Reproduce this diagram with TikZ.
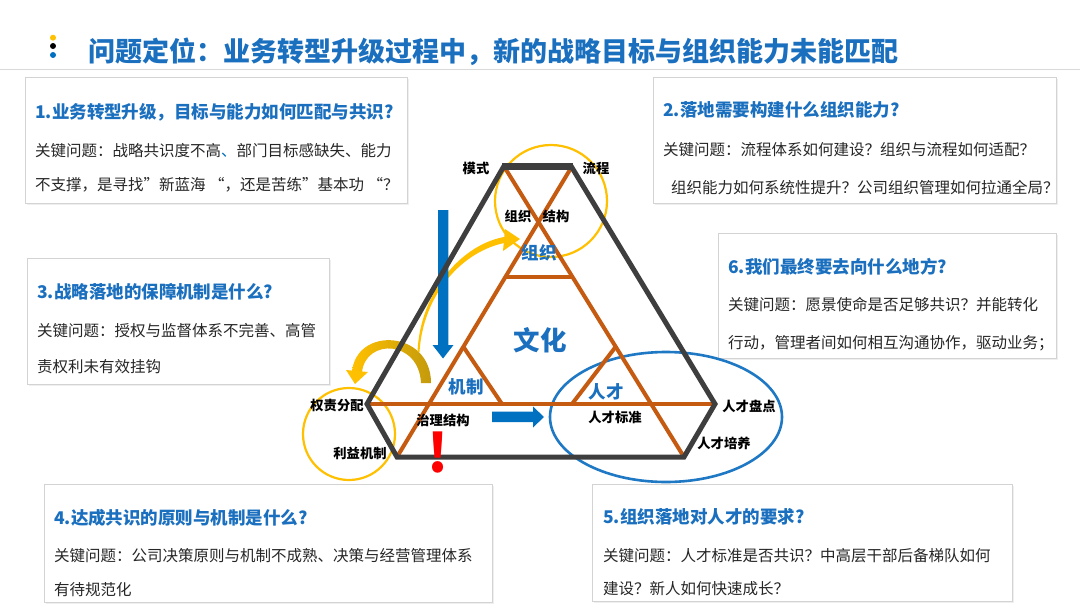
\documentclass[tikz,border=0pt]{standalone}
\usepackage{fontspec}
\setmainfont{Noto Sans CJK SC}
\usetikzlibrary{arrows.meta,shadows}
\definecolor{tblue}{HTML}{1A6FBE}
\definecolor{ablue}{HTML}{0070C0}
\definecolor{orng}{HTML}{C55A11}
\definecolor{dgray}{HTML}{3E3E3E}
\definecolor{ylw}{HTML}{FFC000}
\definecolor{gold}{HTML}{C49A0C}
\definecolor{txt}{HTML}{262626}
\definecolor{bordr}{HTML}{D3D3D3}
\definecolor{eblue}{HTML}{1F78C4}
\definecolor{rule}{HTML}{D9D9D9}
\tikzset{
  boxst/.style={draw=bordr, fill=white, line width=0.9pt, inner sep=0pt, anchor=north west,
    drop shadow={shadow xshift=1.2pt, shadow yshift=-1.2pt, opacity=0.12}},
  btitle/.style={anchor=west, inner sep=0pt, text=tblue, font=\bfseries\fontsize{17.5}{20}\selectfont},
  btext/.style={anchor=west, inner sep=0pt, text=txt, font=\fontsize{15.5}{18}\selectfont},
  lbl/.style={inner sep=0pt, text=black, font=\bfseries\fontsize{13.3}{15}\selectfont},
  blbl/.style={inner sep=0pt, text=tblue, font=\bfseries\fontsize{17.5}{20}\selectfont},
  oline/.style={draw=orng, line width=4pt},
  gline/.style={draw=dgray, line width=5pt, line join=miter},
}
\begin{document}
\begin{tikzpicture}[x=1pt,y=-1pt]
\useasboundingbox[fill=white] (0,0) rectangle (1080,608);

% ---------- title ----------
\fill[ylw] (53,37.7) circle (3);
\fill[black] (53,46) circle (3);
\fill[ablue] (53,55) circle (3);
\node[anchor=west, inner sep=0pt, text=tblue, font=\bfseries\fontsize{27}{30}\selectfont] (ttl) at (88,52)
  {问题定位：业务转型升级过程中，新的战略目标与组织能力未能匹配};
\draw[rule, line width=0.9pt] (0,69) -- (1080,69);

% ---------- boxes ----------
\node[boxst, minimum width=382pt, minimum height=126pt] (b1) at (25,77) {};
\node[btitle] (b1t) at (35,112) {1.业务转型升级，目标与能力如何匹配与共识?};
\node[btext] (b1a) at (35,151) {关键问题：战略共识度不高\textcolor{ablue}{、}部门目标感缺失、能力};
\node[btext] (b1b) at (35,185) {不支撑，是寻找”新蓝海 “，还是苦练”基本功 “？};

\node[boxst, minimum width=403pt, minimum height=126pt] (b2) at (653,77) {};
\node[btitle] (b2t) at (663,110) {2.落地需要构建什么组织能力?};
\node[btext] (b2a) at (663,150) {关键问题：流程体系如何建设？组织与流程如何适配？};
\node[btext] (b2b) at (671,188) {组织能力如何系统性提升？公司组织管理如何拉通全局？};

\node[boxst, minimum width=338pt, minimum height=125pt] (b6) at (718,233) {};
\node[btitle] (b6t) at (728,267) {6.我们最终要去向什么地方?};
\node[btext] (b6a) at (728,305) {关键问题：愿景使命是否足够共识？并能转化};
\node[btext] (b6b) at (728,343) {行动，管理者间如何相互沟通协作，驱动业务；};

\node[boxst, minimum width=302pt, minimum height=126pt] (b3) at (27,258) {};
\node[btitle] (b3t) at (37,292) {3.战略落地的保障机制是什么?};
\node[btext] (b3a) at (37,331) {关键问题：授权与监督体系不完善、高管};
\node[btext] (b3b) at (37,367) {责权利未有效挂钩};

\node[boxst, minimum width=448pt, minimum height=118pt] (b4) at (44,484) {};
\node[btitle] (b4t) at (54,518) {4.达成共识的原则与机制是什么?};
\node[btext] (b4a) at (54,556) {关键问题：公司决策原则与机制不成熟、决策与经营管理体系};
\node[btext] (b4b) at (54,590) {有待规范化};

\node[boxst, minimum width=420pt, minimum height=117pt] (b5) at (592,484) {};
\node[btitle] (b5t) at (603,517) {5.组织落地对人才的要求?};
\node[btext] (b5a) at (603,556) {关键问题：人才标准是否共识？中高层干部后备梯队如何};
\node[btext] (b5b) at (603,589) {建设？新人如何快速成长？};

% ---------- circles and ellipse ----------
\draw[ylw, line width=2.2pt] (551,201) circle (56);
\draw[ylw, line width=2.2pt] (349,434) circle (46);
\draw[eblue, line width=2.6pt] (666,417) ellipse [x radius=116, y radius=65];

% ---------- yellow curved arrows ----------
\shade[left color=ylw, right color=gold]
  (431,383) .. controls (431,330) and (356,326) .. (352,372)
  -- (362,372) .. controls (366,338) and (419,340) .. (421,383) -- cycle;
\fill[ylw] (346,370) -- (368,372) -- (355,384) -- cycle;
\fill[ylw]
  (417.5,352) .. controls (420,292) and (462,243) .. (507,236.5)
  -- (507,242.5) .. controls (463,250) and (423,294) .. (419.5,352) -- cycle;
\fill[ylw] (505,229) -- (503,251) -- (520,239) -- cycle;

% ---------- blue arrows ----------
\fill[ablue] (438,210) -- (448.3,210) -- (448.3,345) -- (453.5,345) -- (443,358.5)
  -- (432.5,345) -- (438,345) -- cycle;
\fill[ablue] (492,411.7) -- (533,411.7) -- (533,406.5) -- (544,417) -- (533,427.5)
  -- (533,422) -- (492,422) -- cycle;

% ---------- orange structure ----------
\coordinate (tl) at (504,166);
\coordinate (tr) at (571,166);
\coordinate (rv) at (715,404);
\coordinate (br) at (684,457);
\coordinate (bl) at (397,457);
\coordinate (lv) at (367,404);
\draw[oline] (505,168) -- (684,457);
\draw[oline] (571,168) -- (397,457);
\draw[oline] (lv) -- (rv);
\draw[oline] (505.4,277) -- (572.5,277);
\draw[oline] (463.5,347) -- (502,404);
\draw[oline] (615.5,347) -- (572,404);

% ---------- dark outline ----------
\draw[gline] (tr) -- (rv) -- (br) -- (bl) -- (lv) -- (tl);
\draw[dgray, line width=7pt] (502,166) -- (573,166);

% ---------- labels ----------
\node[lbl] (ms) at (476,168) {模式};
\node[lbl] (lc) at (596,168) {流程};
\node[lbl] (zz1) at (518,216) {组织};
\node[lbl] (jg) at (556,216) {结构};
\node[blbl] (zz2) at (539,253) {组织};
\node[inner sep=0pt, text=tblue, font=\bfseries\fontsize{26.5}{30}\selectfont] (wh) at (540,340) {文化};
\node[blbl] (jz) at (466,387) {机制};
\node[blbl] (rc) at (606,392) {人才};
\node[lbl] (qz) at (337,405) {权责分配};
\node[lbl] (zl) at (443,420) {治理结构};
\node[lbl] (rb) at (615,417) {人才标准};
\node[lbl] (rp) at (749,406) {人才盘点};
\node[lbl] (ry) at (724,443) {人才培养};
\node[lbl] (ly) at (360,453) {利益机制};
\node[inner sep=0pt, text=red, font=\bfseries\fontsize{53}{53}\selectfont] (ex) at (438,452.5) {!};
\end{tikzpicture}
\end{document}
